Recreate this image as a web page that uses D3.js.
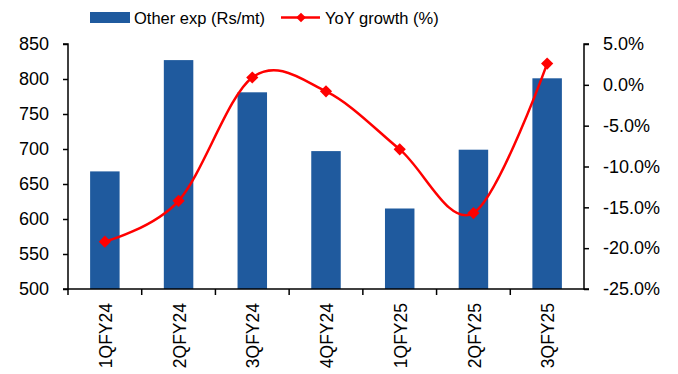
<!DOCTYPE html>
<html>
<head>
<meta charset="utf-8">
<script src="https://cdn.jsdelivr.net/npm/d3@7"></script>
<style>
  body { margin: 0; background: #fff; }
  svg { display: block; font-family: "Liberation Sans", Arial, sans-serif; }
</style>
</head>
<body>
<svg width="678" height="374"></svg>
<script>
(function(){
    'use strict';

    // data
    const quarters = ["1QFY24", "2QFY24", "3QFY24", "4QFY24", "1QFY25", "2QFY25", "3QFY25"];
    const otherExp = [668, 827, 781, 697, 615, 699, 801];
    const yoyGrowth = [-19.2, -14.2, 0.9, -0.8, -7.9, -15.7, 2.6];
    const leftTicks = [500, 550, 600, 650, 700, 750, 800, 850];
    const rightTicks = [-25, -20, -15, -10, -5, 0, 5];

    const barColor = "#1f5a9e";
    const lineColor = "#ff0000";

    const svg = d3.select("svg");
    const left = 68, right = 584, top = 44, bottom = 289;

    const x = d3.scaleBand()
        .domain(quarters)
        .range([left, right])
        .paddingInner(0.6)
        .paddingOuter(0.3);

    const yL = d3.scaleLinear().domain([500, 850]).range([bottom, top]);
    const yR = d3.scaleLinear().domain([-25, 5]).range([bottom, top]);

    // bars
    svg.append("g").selectAll("rect")
        .data(otherExp)
        .join("rect")
        .attr("x", (d, i) => x(quarters[i]))
        .attr("y", d => yL(d))
        .attr("width", x.bandwidth())
        .attr("height", d => bottom - yL(d))
        .attr("fill", barColor);

    // left axis
    const axL = svg.append("g")
        .attr("transform", `translate(${left},0)`)
        .call(d3.axisLeft(yL).tickValues(leftTicks).tickSize(5).tickPadding(14).tickFormat(d3.format("d")));

    // right axis
    const axR = svg.append("g")
        .attr("transform", `translate(${right},0)`)
        .call(d3.axisRight(yR).tickValues(rightTicks).tickSize(5).tickPadding(14)
            .tickFormat(d => d.toFixed(1) + "%"));

    [axL, axR].forEach(g => {
        g.select(".domain").attr("stroke", "#000").attr("stroke-width", 1.5);
        g.selectAll(".tick line").attr("stroke", "#000").attr("stroke-width", 1.5);
        g.selectAll("text").attr("fill", "#000").style("font-size", "18px");
    });
    axL.select(".domain").attr("d", `M-5,${top}H0V${bottom}H-5`);
    axR.select(".domain").attr("d", `M5,${top}H0V${bottom}H5`);

    // x axis line + ticks between categories
    const step = x.step();
    const xAxis = svg.append("g");
    xAxis.append("line")
        .attr("x1", left).attr("x2", right)
        .attr("y1", bottom).attr("y2", bottom)
        .attr("stroke", "#000").attr("stroke-width", 1.5);
    const bounds = quarters.map((q, i) => left + i * step);
    xAxis.selectAll("line.tk")
        .data(bounds)
        .join("line")
        .attr("class", "tk")
        .attr("x1", d => d).attr("x2", d => d)
        .attr("y1", bottom).attr("y2", bottom + 6)
        .attr("stroke", "#000").attr("stroke-width", 1.5);

    xAxis.selectAll("text")
        .data(quarters)
        .join("text")
        .attr("transform", d => `translate(${x(d) + x.bandwidth() / 2 + 1},${bottom + 14}) rotate(-90)`)
        .attr("text-anchor", "end")
        .attr("dy", "0.35em")
        .style("font-size", "17.5px")
        .text(d => d);

    // smoothed line
    const line = d3.line()
        .x((d, i) => x(quarters[i]) + x.bandwidth() / 2)
        .y(d => yR(d))
        .curve(d3.curveCardinal.tension(0));

    svg.append("path")
        .datum(yoyGrowth)
        .attr("d", line)
        .attr("fill", "none")
        .attr("stroke", lineColor)
        .attr("stroke-width", 2.5);

    const diamond = d3.symbol().type(d3.symbolDiamond2).size(95);
    svg.append("g").selectAll("path")
        .data(yoyGrowth)
        .join("path")
        .attr("d", diamond)
        .attr("transform", (d, i) => `translate(${x(quarters[i]) + x.bandwidth() / 2},${yR(d)})`)
        .attr("fill", lineColor);

    // legend
    const lg = svg.append("g").style("font-size", "16.5px");
    lg.append("rect").attr("x", 90).attr("y", 12).attr("width", 40).attr("height", 11).attr("fill", barColor);
    lg.append("text").attr("x", 134).attr("y", 23.5).text("Other exp (Rs/mt)");
    lg.append("line").attr("x1", 281).attr("x2", 320).attr("y1", 17.5).attr("y2", 17.5)
        .attr("stroke", lineColor).attr("stroke-width", 2.5);
    lg.append("path").attr("d", d3.symbol().type(d3.symbolDiamond2).size(60)).attr("transform", "translate(301,17.5)").attr("fill", lineColor);
    lg.append("text").attr("x", 325).attr("y", 23.5).text("YoY growth (%)");
})();
</script>
</body>
</html>
